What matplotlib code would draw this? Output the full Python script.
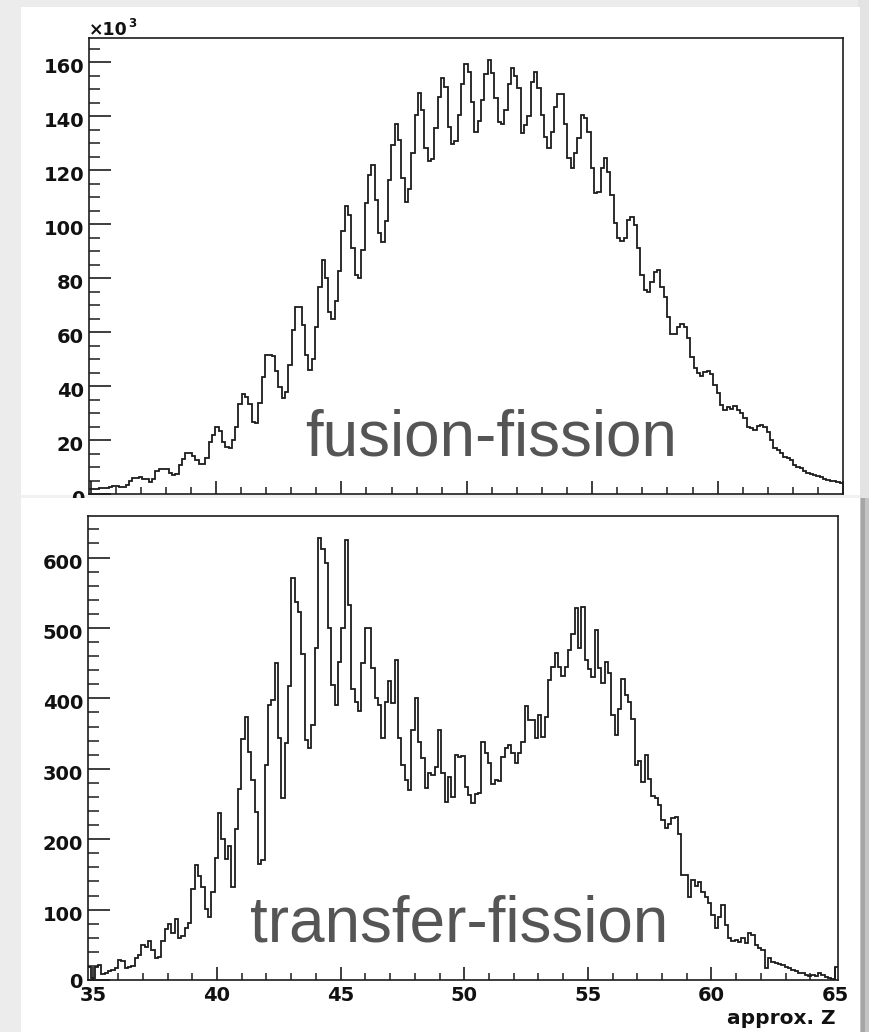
import numpy as np
import matplotlib
matplotlib.use("Agg")
import matplotlib.pyplot as plt
from matplotlib.patches import Rectangle
from matplotlib.ticker import MultipleLocator
from matplotlib.transforms import ScaledTranslation

# ---------------------------------------------------------------- data
# fusion-fission yield per bin, in units of 10^3 counts
fusion_counts_k = [
    1.7, 1.7, 1.7, 2.1, 2.1, 2.1, 2.7, 3.1, 3.1, 2.7, 2.7, 3.3, 4.9, 5.9, 5.9, 6.4,
    5.4, 5.4, 4.4, 5.4, 8.5, 9.1, 9.1, 9.4, 7.7, 6.9, 7.5, 10.6, 12.8, 15.1, 15.1,
    14.1, 12.6, 11.0, 11.0, 13.2, 19.4, 21.9, 24.9, 23.5, 19.4, 17.3, 17.0, 20.0,
    25.0, 33.3, 37.0, 36.0, 33.5, 26.8, 26.2, 33.6, 43.2, 51.5, 51.5, 51.2, 45.6,
    39.8, 35.4, 37.9, 47.8, 60.8, 69.4, 69.4, 62.6, 51.5, 45.9, 50.0, 62.0, 76.8,
    86.7, 79.9,
    67.6, 64.7, 71.6, 82.7, 97.6, 106.8, 103.4, 91.0, 81.1, 79.9, 90.4, 107.7,
    118.4, 122.1, 108.9, 96.6, 93.5, 101.3, 116.3, 129.3, 137.3, 131.2, 117.2,
    108.3, 112.9, 126.2, 140.4, 148.7, 142.5, 128.1, 123.4, 124.0, 135.7, 147.2,
    154.2, 150.9, 136.1, 129.7, 130.9, 140.4, 151.8, 159.3, 156.5, 145.4, 134.2,
    138.2, 146.0, 155.6, 160.8, 155.9, 146.6, 138.0, 137.1, 142.3, 151.8, 157.7,
    154.9, 150.3, 133.9, 136.7, 140.2, 152.8, 156.5, 150.3, 140.4, 132.4, 128.1,
    134.2, 143.5, 148.4, 148.1, 137.1, 124.7, 120.7, 126.2, 132.1, 140.4, 139.2,
    134.2, 121.0,
    111.4, 112.0, 121.0, 124.4, 119.4, 110.8, 100.3, 94.7, 93.9, 94.7, 101.5,
    102.8, 99.7, 91.0, 81.1, 75.6, 75.0, 78.7, 82.4, 83.2, 76.8, 73.1, 65.7, 59.3,
    59.3, 61.8, 63.0, 61.8, 57.7, 50.9, 46.6, 44.7, 43.7, 45.3, 45.6, 44.5, 40.4,
    37.3, 33.0, 31.1, 32.4, 31.4, 32.6, 31.1, 30.1, 28.0, 24.9, 24.3, 23.7, 25.2,
    25.6, 24.7, 23.1, 20.0, 16.9, 16.3, 15.1, 13.8, 13.5, 12.6, 10.7, 10.1, 9.5,
    8.6, 7.9, 7.4, 7.0, 6.7, 6.2, 5.4, 5.2, 4.9, 4.7, 4.4, 4.2,
]

# transfer-fission yield per bin, in counts
transfer_counts = [
    18, 2.4, 19, 22, 8.5, 10.4, 12.8, 14.2, 16.6, 28.4, 27.5, 16.6, 19, 20, 30.8,
    35.5, 49.7, 47.4, 55.9, 42.6, 30.8, 32.2, 55.9, 72.4, 79.5, 66.3, 86.2, 59.2,
    62.5, 73.4, 81.4,
    128.8, 163.4, 147.7, 132.6, 100.4, 90, 125.5, 172.8,
    236.8, 200, 172, 190, 131.6, 215, 270.8, 342.3, 373, 324.3, 284, 239, 165, 170,
    305, 390.6, 397.7, 449.8, 343.3, 258, 337, 418, 570.6, 537.4, 523.2, 463, 341,
    329, 362, 471,
    628, 612, 592, 499.5, 419, 390.6, 452, 499.5, 625, 532.7, 414, 395, 382.6,
    449.8, 499.5, 499.5,
    442.7, 400, 390.6, 343.3, 395, 425.2, 394, 454.6, 343.3, 305.4, 284, 269.9,
    355, 400, 338.6, 314.9, 272.3, 294.5, 291.2, 303, 355, 293.6, 253.3, 288.8,
    260.4, 319.6, 317.2, 318, 274.6, 262.8, 251, 263.7, 265,
    338.6, 323, 307.8, 278.4, 284, 283, 316.3, 329, 333.8, 322, 307.8, 322, 338.6,
    389.7, 369.3, 369.3, 344.2, 376.4, 345.7, 374, 426, 444, 464, 445, 431.8, 445,
    468.8, 491.5, 528, 471, 530.3, 454.6, 441.3, 430, 497.2, 442.7, 421.4, 452.2,
    436.6, 376.4, 348, 384.5, 427, 404.8, 395.4, 370.3, 305.4, 311.6, 281.7,
    319.6, 285, 261.4, 258, 248.6, 227.3, 215.4, 221.6, 229.6, 231, 208,
    149, 149, 118.4, 142, 133.5, 139.7, 125, 118.4, 109, 92.3, 73.4, 90, 106.5,
    78.1, 59.2, 55.9, 56.8, 54.5, 59.2, 53, 66.3, 64, 49.7, 45, 42.6, 16.6, 30.8,
    26, 23.7, 22.7, 21.3, 19, 16.6, 14.2, 13.3, 10.4, 9.5, 7.1, 5.7, 7.1, 5.7,
    10.4, 7.1, 4.7, 3.3, 2, 18,
]

fusion_range = (34.94, 65.0)      # approx. Z
transfer_range = (34.78, 65.12)   # approx. Z
fusion_ymax = 169.0
transfer_ymax = 659.0

fusion_label = "fusion-fission"
transfer_label = "transfer-fission"
x_title = "approx. Z"

# ---------------------------------------------------------------- figure
W, H = 870, 1032
fig = plt.figure(figsize=(W / 100, H / 100), dpi=100)
fig.patch.set_facecolor("#ececec")

AXFONT = "DejaVu Sans"        # wide bold face for the axis labels
TXFONT = "Liberation Sans"    # annotation text
LINE = "#1c1c1c"
LABEL = "#111111"


def fig_box(x0, y0, x1, y1):
    """Pixel box (top-left origin) -> figure-fraction [l, b, w, h]."""
    return [x0 / W, 1 - y1 / H, (x1 - x0) / W, (y1 - y0) / H]


def rect(x0, y0, x1, y1, z, color="white"):
    l, b, w, h = fig_box(x0, y0, x1, y1)
    fig.patches.append(Rectangle((l, b), w, h, transform=fig.transFigure,
                                 facecolor=color, edgecolor="none", zorder=z))


def style_axes(ax, xr, ymax, ymajor, yminor):
    ax.set_xlim(*xr)
    ax.set_ylim(0, ymax)
    ax.set_facecolor("white")
    for s in ax.spines.values():
        s.set_linewidth(1.2)
        s.set_color(LINE)
    ax.xaxis.set_major_locator(MultipleLocator(5))
    ax.xaxis.set_minor_locator(MultipleLocator(1))
    ax.yaxis.set_major_locator(MultipleLocator(ymajor))
    ax.yaxis.set_minor_locator(MultipleLocator(yminor))
    ax.tick_params(axis="x", which="major", direction="in", length=9.5,
                   width=1.2, color=LINE, pad=4.0)
    ax.tick_params(axis="x", which="minor", direction="in", length=5,
                   width=1.1, color=LINE)
    ax.tick_params(axis="y", which="major", direction="in", length=16,
                   width=1.2, color=LINE, pad=3.6)
    ax.tick_params(axis="y", which="minor", direction="in", length=8,
                   width=1.1, color=LINE)
    ax.tick_params(top=False, right=False)
    for lab in ax.get_xticklabels() + ax.get_yticklabels():
        lab.set_fontfamily(AXFONT)
        lab.set_fontweight("bold")
        lab.set_fontsize(14)
        lab.set_color(LABEL)


# right-hand shadow strip beside the lower pad
rect(858, 498, 870, H, 0.2, "#c4c4c4")
rect(861, 498, 865, H, 0.3, "#a6a6a6")
rect(858, 0, 870, 498, 0.2, "#e3e3e3")
# faint seam between the two pads
rect(21, 495, 860, 498, 0.6, "#f1f1f1")

# upper pad + histogram
rect(21, 7, 860, 495, 0.5)
ax1 = fig.add_axes(fig_box(89, 38, 843, 494), zorder=1)
edges1 = np.linspace(fusion_range[0], fusion_range[1], len(fusion_counts_k) + 1)
ax1.stairs(fusion_counts_k, edges1, baseline=None, color=LINE, lw=1.3)
style_axes(ax1, fusion_range, fusion_ymax, 20, 5)
ax1.set_xticklabels([])
fig.text(89 / W, 1 - 35 / H, "\u00d710", ha="left", va="baseline",
         fontfamily=AXFONT, fontweight="bold", fontsize=12.5, color=LABEL,
         zorder=1.5)
fig.text(128.5 / W, 1 - 27 / H, "3", ha="left", va="baseline",
         fontfamily=AXFONT, fontweight="bold", fontsize=8.5, color=LABEL,
         zorder=1.5)
fig.text(305 / W, 1 - 455 / H, fusion_label, ha="left", va="baseline",
         fontfamily=TXFONT, fontsize=46, color="#555555", zorder=1.5)

# lower pad + histogram (drawn over the upper one)
rect(21, 498, 860, H, 2)
ax2 = fig.add_axes(fig_box(88, 516, 838, 980), zorder=3)
edges2 = np.linspace(transfer_range[0], transfer_range[1], len(transfer_counts) + 1)
ax2.stairs(transfer_counts, edges2, baseline=None, color=LINE, lw=1.3)
style_axes(ax2, transfer_range, transfer_ymax, 100, 20)
fig.text(250 / W, 1 - 941 / H, transfer_label, ha="left", va="baseline",
         fontfamily=TXFONT, fontsize=46, color="#555555", zorder=4)
fig.text(836 / W, 1 - 1024 / H, x_title, ha="right", va="baseline",
         fontfamily=AXFONT, fontweight="bold", fontsize=14.5, color=LABEL,
         zorder=4)

# the y labels sit a few pixels below their ticks
# (except the lower zero, which would otherwise run into the "35")
fig.canvas.draw()
shift = ScaledTranslation(0, -3.5 / 100, fig.dpi_scale_trans)
for ax in (ax1, ax2):
    for t in ax.yaxis.get_major_ticks():
        if ax is ax2 and abs(t.get_loc()) < 1e-9:
            continue
        t.label1.set_transform(t.label1.get_transform() + shift)

fig.savefig("out.png", dpi=100, facecolor=fig.get_facecolor())
